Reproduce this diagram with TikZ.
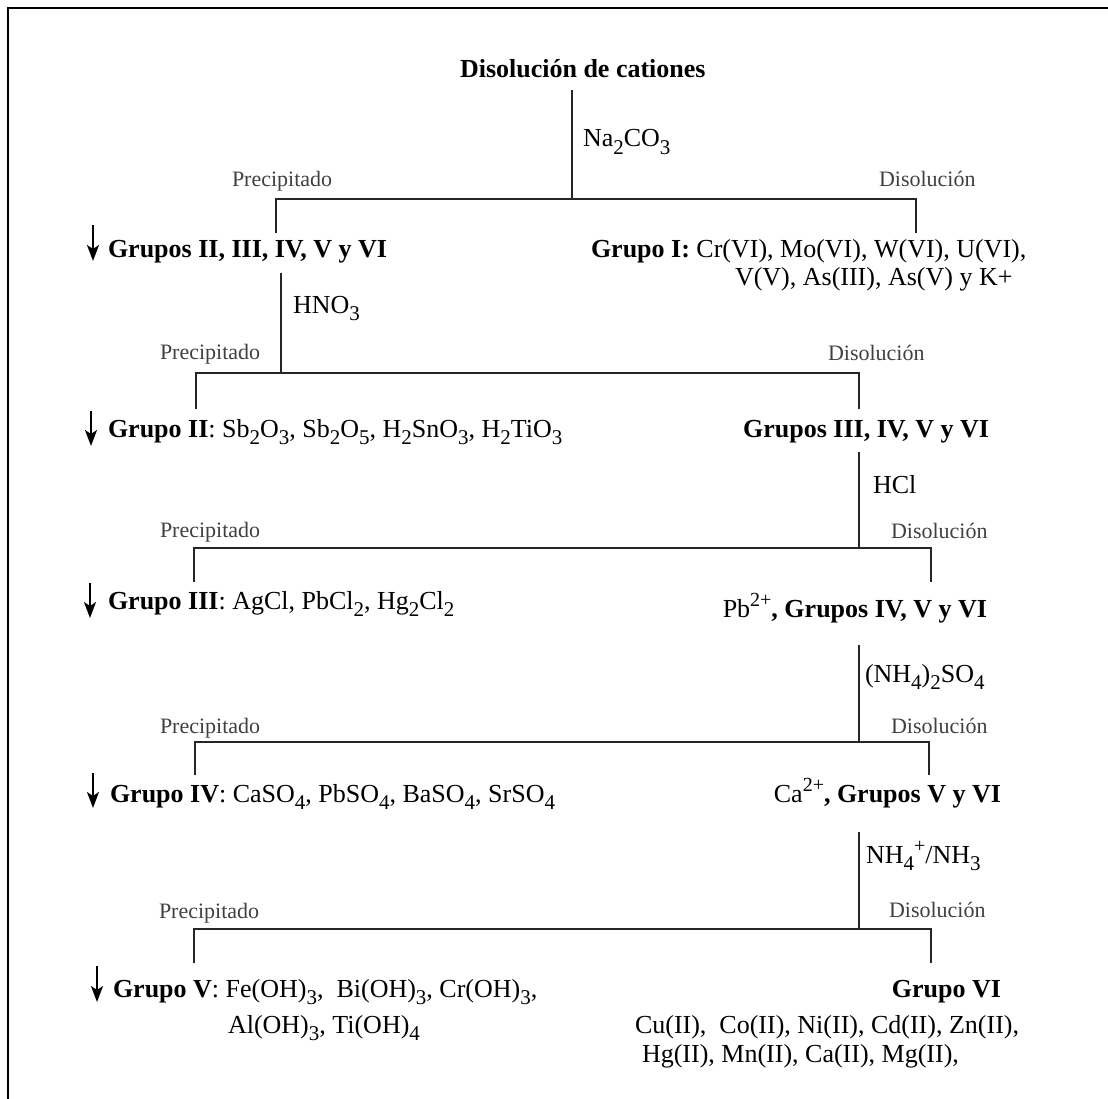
\documentclass[tikz,border=0pt]{standalone}
\usepackage{fontspec}
\setmainfont{Liberation Serif}
\usetikzlibrary{arrows.meta}
\newcommand\chsub[1]{\raisebox{-0.3em}{\fontsize{21}{21}\selectfont #1}}
\newcommand\chsup[1]{\raisebox{0.42em}{\fontsize{20}{20}\selectfont #1}}
\tikzset{
  txt/.style={inner sep=0pt, outer sep=0pt, font=\fontsize{26}{28}\selectfont, text=black},
  lbl/.style={inner sep=0pt, outer sep=0pt, font=\fontsize{22}{24}\selectfont, text=black!75},
  tree/.style={line width=1.9pt, draw=black!85},
  darrow/.style={line width=2pt, -{Stealth[length=16pt,width=12pt,inset=4pt]}},
}
\begin{document}
\begin{tikzpicture}[x=1pt,y=-1pt]
\useasboundingbox (0,0) rectangle (1108,1099);
% frame
\coordinate (fa) at (8,1099);
\coordinate (fb) at (8,8);
\coordinate (fc) at (1108,8);
\draw[line width=2pt] (fa) -- (fb) -- (fc);

% level 0
\node[txt, anchor=base west] (title) at (460,78) {\textbf{Disolución de cationes}};
\node[txt, anchor=base west] (r0) at (583,147) {Na\chsub{2}CO\chsub{3}};
\node[lbl, anchor=base west] (p0) at (232,187) {Precipitado};
\node[lbl, anchor=base west] (d0) at (879,187) {Disolución};
\node[txt, anchor=base west] (g1) at (108,258) {\textbf{Grupos II, III, IV, V y VI}};
\node[txt, anchor=base west] (gIa) at (591,258) {\textbf{Grupo I:} Cr(VI), Mo(VI), W(VI), U(VI),};
\node[txt, anchor=base west] (gIb) at (735,286) {V(V), As(III), As(V) y K+};
\coordinate (v0a) at (572,90);
\coordinate (v0b) at (572,199);
\coordinate (b0l) at (276,233);
\coordinate (b0lt) at (276,199);
\coordinate (b0rt) at (916,199);
\coordinate (b0r) at (916,233);
\draw[tree] (v0a) -- (v0b);
\draw[tree] (b0l) -- (b0lt) -- (b0rt) -- (b0r);

% level 1
\node[txt, anchor=base west] (r1) at (293,313) {HNO\chsub{3}};
\node[lbl, anchor=base west] (p1) at (160,359) {Precipitado};
\node[lbl, anchor=base west] (d1) at (828,360) {Disolución};
\node[txt, anchor=base west] (gII) at (108,437) {\textbf{Grupo II}: Sb\chsub{2}O\chsub{3}, Sb\chsub{2}O\chsub{5}, H\chsub{2}SnO\chsub{3}, H\chsub{2}TiO\chsub{3}};
\node[txt, anchor=base east] (g3) at (989,437) {\textbf{Grupos III, IV, V y VI}};
\coordinate (v1a) at (281,273);
\coordinate (v1b) at (281,373);
\coordinate (b1l) at (196,409);
\coordinate (b1lt) at (196,373);
\coordinate (b1rt) at (859,373);
\coordinate (b1r) at (859,409);
\draw[tree] (v1a) -- (v1b);
\draw[tree] (b1l) -- (b1lt) -- (b1rt) -- (b1r);

% level 2
\node[txt, anchor=base west] (r2) at (873,493) {HCl};
\node[lbl, anchor=base west] (p2) at (160,537) {Precipitado};
\node[lbl, anchor=base west] (d2) at (891,538) {Disolución};
\node[txt, anchor=base west] (gIII) at (108,609) {\textbf{Grupo III}: AgCl, PbCl\chsub{2}, Hg\chsub{2}Cl\chsub{2}};
\node[txt, anchor=base east] (g4) at (987,617) {Pb\chsup{2+}\textbf{, Grupos IV, V y VI}};
\coordinate (v2a) at (859,452);
\coordinate (v2b) at (859,548);
\coordinate (b2l) at (194,582);
\coordinate (b2lt) at (194,548);
\coordinate (b2rt) at (931,548);
\coordinate (b2r) at (931,582);
\draw[tree] (v2a) -- (v2b);
\draw[tree] (b2l) -- (b2lt) -- (b2rt) -- (b2r);

% level 3
\node[txt, anchor=base west] (r3) at (865,682) {(NH\chsub{4})\chsub{2}SO\chsub{4}};
\node[lbl, anchor=base west] (p3) at (160,733) {Precipitado};
\node[lbl, anchor=base west] (d3) at (891,733) {Disolución};
\node[txt, anchor=base west] (gIV) at (110,802) {\textbf{Grupo IV}: CaSO\chsub{4}, PbSO\chsub{4}, BaSO\chsub{4}, SrSO\chsub{4}};
\node[txt, anchor=base east] (g5) at (1001,802) {Ca\chsup{2+}\textbf{, Grupos V y VI}};
\coordinate (v3a) at (859,645);
\coordinate (v3b) at (859,742);
\coordinate (b3l) at (195,775);
\coordinate (b3lt) at (195,742);
\coordinate (b3rt) at (929,742);
\coordinate (b3r) at (929,775);
\draw[tree] (v3a) -- (v3b);
\draw[tree] (b3l) -- (b3lt) -- (b3rt) -- (b3r);

% level 4
\node[txt, anchor=base west] (r4) at (866,863) {NH\chsub{4}\chsup{+}/NH\chsub{3}};
\node[lbl, anchor=base west] (p4) at (159,918) {Precipitado};
\node[lbl, anchor=base west] (d4) at (889,917) {Disolución};
\node[txt, anchor=base west] (gV) at (113,997) {\textbf{Grupo V}: Fe(OH)\chsub{3},\ \ Bi(OH)\chsub{3}, Cr(OH)\chsub{3},};
\node[txt, anchor=base west] (gVb) at (228,1033) {Al(OH)\chsub{3}, Ti(OH)\chsub{4}};
\node[txt, anchor=base east] (gVI) at (1001,997) {\textbf{Grupo VI}};
\node[txt, anchor=base west] (gVIa) at (635,1033) {Cu(II),\ \ Co(II), Ni(II), Cd(II), Zn(II),};
\node[txt, anchor=base west] (gVIb) at (642,1062) {Hg(II), Mn(II), Ca(II), Mg(II),};
\coordinate (v4a) at (859,832);
\coordinate (v4b) at (859,929);
\coordinate (b4l) at (194,963);
\coordinate (b4lt) at (194,929);
\coordinate (b4rt) at (931,929);
\coordinate (b4r) at (931,963);
\draw[tree] (v4a) -- (v4b);
\draw[tree] (b4l) -- (b4lt) -- (b4rt) -- (b4r);

% precipitate arrows
\coordinate (a1t) at (93,225); \coordinate (a1b) at (93,261);
\coordinate (a2t) at (91,411); \coordinate (a2b) at (91,446);
\coordinate (a3t) at (90,583); \coordinate (a3b) at (90,618);
\coordinate (a4t) at (93,773); \coordinate (a4b) at (93,808);
\coordinate (a5t) at (97,966); \coordinate (a5b) at (97,1002);
\draw[darrow] (a1t) -- (a1b);
\draw[darrow] (a2t) -- (a2b);
\draw[darrow] (a3t) -- (a3b);
\draw[darrow] (a4t) -- (a4b);
\draw[darrow] (a5t) -- (a5b);
\end{tikzpicture}
\end{document}
